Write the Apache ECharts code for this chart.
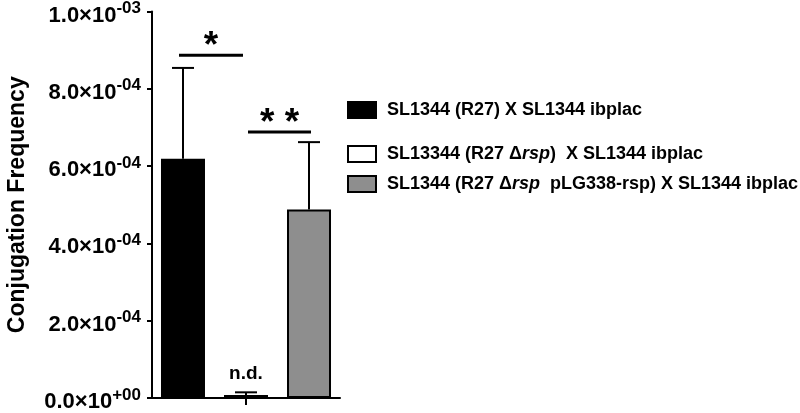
<!DOCTYPE html>
<html>
<head>
<meta charset="utf-8">
<script src="https://cdn.jsdelivr.net/npm/echarts@6/dist/echarts.min.js"></script>
<style>html,body{margin:0;padding:0;background:#fff}#c{width:800px;height:413px}</style>
</head>
<body>
<div id="c"></div>
<script>
const categories = [''];
const seriesNames = ['SL1344 (R27) X SL1344 ibplac', 'SL13344 (R27 Δrsp) X SL1344 ibplac', 'SL1344 (R27 Δrsp pLG338-rsp) X SL1344 ibplac'];
const legendLabels = ['SL1344 (R27) X SL1344 ibplac', 'SL13344 (R27 Δ{it|rsp})  X SL1344 ibplac', 'SL1344 (R27 Δ{it|rsp}  pLG338-rsp) X SL1344 ibplac'];
const means = [6.19e-4, 7.7e-6, 4.88e-4];
const errors = [2.35e-4, 7e-6, 1.74e-4];
const barColors = ['#000000', '#ffffff', '#8e8e8e'];
const barLabels = ['', 'n.d.', ''];
const yTickMantissa = ['0.0', '2.0', '4.0', '6.0', '8.0', '1.0'];
const yTickExponent = ['+00', '-04', '-04', '-04', '-04', '-03'];
const bracketPairs = [[0, 1], [1, 2]];
const bracketY = [8.87e-4, 6.88e-4];
const bracketText = ['*', '* *'];

const FONT = "'Liberation Sans', Arial, sans-serif";
const BAR_W = 44, BAR_GAP = 19;
const BRACKET_PAD = [[-4, -3], [2, 2]];
const chart = echarts.init(document.getElementById('c'), null, {renderer: 'canvas'});

function barCenter(api, i) {
  const c = api.coord([0, 0])[0];
  return c + (i - 1) * (BAR_W + BAR_GAP);
}

const barSeries = seriesNames.map((n, i) => ({
  name: n,
  type: 'bar',
  barWidth: BAR_W,
  barGap: (BAR_GAP / BAR_W * 100).toFixed(1) + '%',
  data: [means[i]],
  itemStyle: {color: barColors[i], borderColor: '#000', borderWidth: 2},
  label: {
    show: barLabels[i] !== '', position: 'top', distance: 12,
    formatter: () => barLabels[i],
    fontFamily: FONT, fontWeight: 'bold', fontSize: 19, color: '#000'
  },
  z: 2
}));

const errorSeries = {
  type: 'custom',
  data: means.map((m, i) => [0, m, errors[i], i]),
  encode: {x: 0, y: 1},
  z: 3,
  silent: true,
  renderItem: (params, api) => {
    const i = api.value(3);
    const m = api.value(1), e = api.value(2);
    const cx = barCenter(api, i);
    const y0 = api.coord([0, m])[1];
    const y1 = api.coord([0, m + e])[1];
    const half = 11;
    const st = {stroke: '#000', lineWidth: 2};
    return {type: 'group', children: [
      {type: 'line', shape: {x1: cx, y1: y0, x2: cx, y2: y1}, style: st},
      {type: 'line', shape: {x1: cx - half, y1: y1, x2: cx + half, y2: y1}, style: st}
    ]};
  }
};

const bracketSeries = {
  type: 'custom',
  data: bracketY.map((y, k) => [0, y, k]),
  encode: {x: 0, y: 1},
  z: 3,
  silent: true,
  renderItem: (params, api) => {
    const k = api.value(2);
    const [a, b] = bracketPairs[k];
    const x1 = barCenter(api, a) + BRACKET_PAD[k][0];
    const x2 = barCenter(api, b) + BRACKET_PAD[k][1];
    const y = api.coord([0, api.value(1)])[1];
    return {type: 'group', children: [
      {type: 'line', shape: {x1: x1, y1: y, x2: x2, y2: y}, style: {stroke: '#000', lineWidth: 3}},
      {type: 'text', x: (x1 + x2) / 2, y: y - 27, style: {text: bracketText[k], fill: '#000', font: 'bold 37px ' + FONT, textAlign: 'center', textVerticalAlign: 'top'}}
    ]};
  }
};

const legendTops = [101, 145, 175];
const legends = seriesNames.map((n, i) => ({
  data: [n],
  left: 347,
  top: legendTops[i],
  orient: 'vertical',
  padding: 0,
  icon: 'rect',
  itemWidth: 28,
  itemHeight: 16,
  selectedMode: false,
  formatter: () => legendLabels[i],
  textStyle: {
    fontFamily: FONT, fontWeight: 'bold', fontSize: 18, color: '#000',
    padding: [0, 0, 0, 6],
    rich: {it: {fontFamily: FONT, fontWeight: 'bold', fontStyle: 'italic', fontSize: 18, color: '#000'}}
  }
}));

chart.setOption({
  animation: false,
  backgroundColor: '#fff',
  grid: {left: 152, right: 460, top: 11, bottom: 11, containLabel: false},
  legend: legends,
  xAxis: {
    type: 'category',
    data: categories,
    axisLine: {lineStyle: {color: '#000', width: 2}},
    axisTick: {show: true, alignWithLabel: true, length: 7, lineStyle: {color: '#000', width: 2}},
    axisLabel: {show: false}
  },
  yAxis: {
    type: 'value',
    min: 0, max: 1e-3, interval: 2e-4,
    name: 'Conjugation Frequency',
    nameLocation: 'middle',
    nameGap: 123,
    nameTextStyle: {fontFamily: FONT, fontWeight: 'bold', fontSize: 23, color: '#000'},
    axisLine: {show: true, lineStyle: {color: '#000', width: 2}},
    axisTick: {show: true, length: 5, lineStyle: {color: '#000', width: 2}},
    splitLine: {show: false},
    axisLabel: {
      margin: 11,
      fontFamily: FONT, fontWeight: 'bold', fontSize: 18, color: '#000',
      formatter: (v) => {
        const k = Math.round(v / 2e-4);
        return '{m|' + yTickMantissa[k] + '×10}{s|' + yTickExponent[k] + '}';
      },
      rich: {
        m: {fontFamily: FONT, fontWeight: 'bold', fontSize: 22, color: '#000', padding: [8, 0, 0, 0]},
        s: {fontFamily: FONT, fontWeight: 'bold', fontSize: 17, color: '#000', padding: [0, 0, 6, 0]}
      }
    }
  },
  series: [...barSeries, errorSeries, bracketSeries]
});
</script>
</body>
</html>
